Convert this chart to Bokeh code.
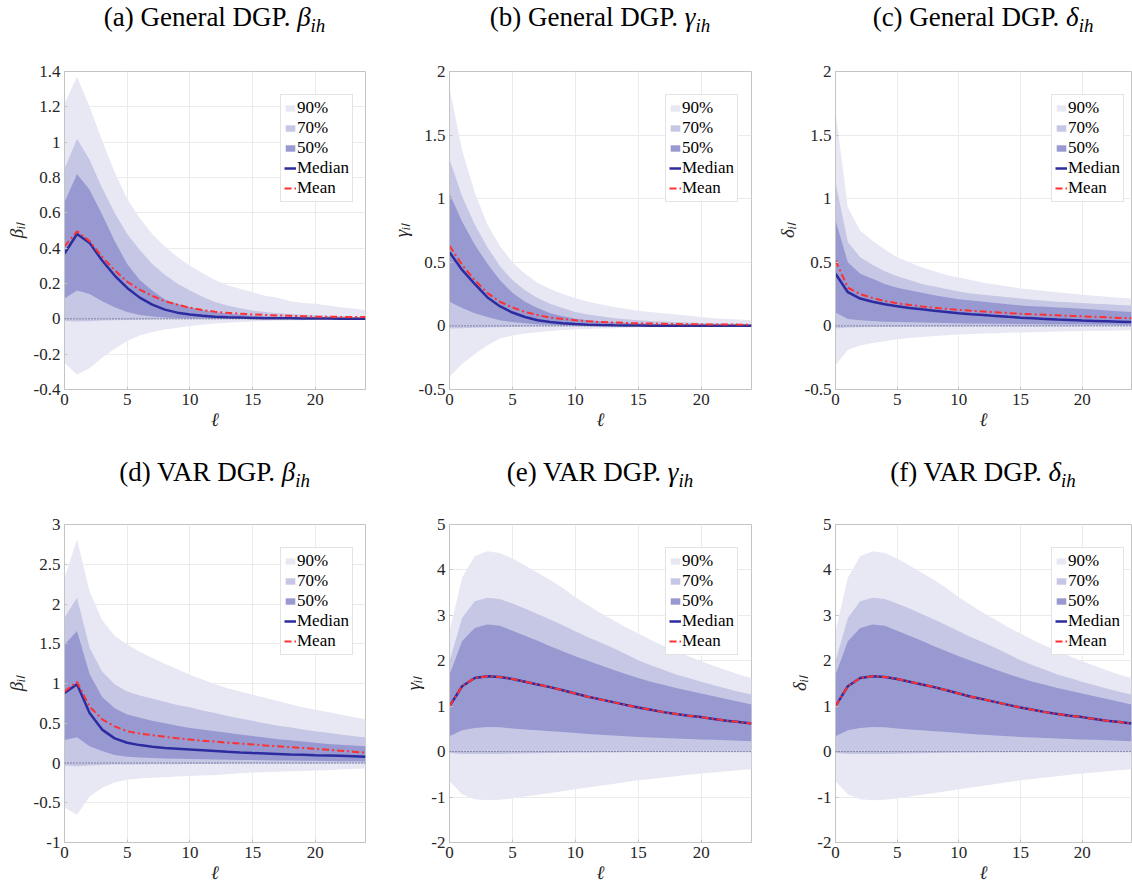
from bokeh.plotting import figure
from bokeh.models import Div, Span, FixedTicker, Range1d
from bokeh.layouts import row, column
from bokeh.embed import file_html
from bokeh.resources import INLINE

ell = list(range(25))
x_ticks = [0, 5, 10, 15, 20]

# ---------------- (a) General DGP, beta ----------------
a_hi90 = [1.22, 1.37, 1.20, 1.01, 0.83, 0.68, 0.57, 0.48, 0.41, 0.35, 0.30, 0.26, 0.22, 0.19, 0.17, 0.15, 0.13, 0.12, 0.10, 0.09, 0.085, 0.075, 0.065, 0.058, 0.05]
a_lo90 = [-0.25, -0.315, -0.28, -0.22, -0.17, -0.125, -0.095, -0.075, -0.06, -0.05, -0.04, -0.033, -0.027, -0.022, -0.018, -0.015, -0.012, -0.010, -0.009, -0.008, -0.007, -0.006, -0.005, -0.005, -0.004]
a_hi70 = [0.85, 1.02, 0.90, 0.74, 0.60, 0.48, 0.39, 0.31, 0.25, 0.20, 0.16, 0.125, 0.095, 0.075, 0.06, 0.047, 0.038, 0.032, 0.027, 0.023, 0.02, 0.017, 0.014, 0.012, 0.01]
a_lo70 = [-0.012, -0.015, -0.013, -0.01, -0.008, -0.006, -0.005, -0.004, -0.003, -0.003, -0.002, -0.002, -0.002, -0.001, -0.001, -0.001, -0.001, -0.001, -0.001, -0.001, -0.001, -0.001, -0.001, -0.001, -0.001]
a_hi50 = [0.66, 0.82, 0.73, 0.59, 0.44, 0.31, 0.22, 0.16, 0.11, 0.085, 0.065, 0.05, 0.037, 0.03, 0.023, 0.018, 0.015, 0.012, 0.01, 0.009, 0.008, 0.007, 0.006, 0.005, 0.005]
a_lo50 = [0.115, 0.16, 0.14, 0.10, 0.065, 0.038, 0.022, 0.013, 0.008, 0.005, 0.004, 0.003, 0.002, 0.002, 0.001, 0.001, 0.001, 0.001, 0.001, 0.001, 0.001, 0.001, 0.0, 0.0, 0.0]
a_med = [0.37, 0.48, 0.43, 0.33, 0.245, 0.175, 0.12, 0.08, 0.052, 0.035, 0.024, 0.017, 0.012, 0.009, 0.007, 0.005, 0.004, 0.003, 0.003, 0.002, 0.002, 0.002, 0.001, 0.001, 0.001]
a_mean = [0.41, 0.495, 0.44, 0.35, 0.275, 0.21, 0.165, 0.13, 0.10, 0.08, 0.063, 0.05, 0.04, 0.034, 0.029, 0.025, 0.022, 0.019, 0.017, 0.015, 0.013, 0.012, 0.011, 0.01, 0.01]

# ---------------- (b) General DGP, gamma ----------------
b_hi90 = [1.87, 1.38, 1.05, 0.80, 0.63, 0.50, 0.41, 0.34, 0.29, 0.25, 0.22, 0.19, 0.17, 0.15, 0.135, 0.12, 0.11, 0.10, 0.09, 0.08, 0.07, 0.06, 0.055, 0.05, 0.045]
b_lo90 = [-0.40, -0.30, -0.22, -0.155, -0.10, -0.076, -0.06, -0.05, -0.04, -0.033, -0.028, -0.024, -0.021, -0.018, -0.015, -0.012, -0.011, -0.01, -0.009, -0.008, -0.007, -0.006, -0.006, -0.005, -0.005]
b_hi70 = [1.31, 1.02, 0.80, 0.62, 0.47, 0.36, 0.28, 0.22, 0.175, 0.14, 0.11, 0.09, 0.075, 0.062, 0.052, 0.045, 0.039, 0.034, 0.03, 0.026, 0.023, 0.02, 0.018, 0.016, 0.015]
b_lo70 = [-0.02, -0.018, -0.015, -0.012, -0.01, -0.008, -0.006, -0.005, -0.004, -0.003, -0.003, -0.002, -0.002, -0.002, -0.001, -0.001, -0.001, -0.001, -0.001, -0.001, -0.001, -0.001, -0.001, -0.001, -0.001]
b_hi50 = [1.04, 0.82, 0.64, 0.49, 0.36, 0.26, 0.19, 0.14, 0.10, 0.075, 0.056, 0.045, 0.036, 0.029, 0.024, 0.02, 0.016, 0.013, 0.011, 0.009, 0.008, 0.007, 0.006, 0.005, 0.005]
b_lo50 = [0.19, 0.14, 0.10, 0.07, 0.045, 0.03, 0.02, 0.013, 0.009, 0.006, 0.004, 0.003, 0.002, 0.002, 0.001, 0.001, 0.001, 0.001, 0.001, 0.0, 0.0, 0.0, 0.0, 0.0, 0.0]
b_med = [0.58, 0.44, 0.33, 0.226, 0.155, 0.105, 0.07, 0.045, 0.03, 0.02, 0.014, 0.01, 0.007, 0.005, 0.004, 0.003, 0.002, 0.002, 0.002, 0.001, 0.001, 0.001, 0.001, 0.001, 0.001]
b_mean = [0.63, 0.48, 0.36, 0.26, 0.19, 0.145, 0.11, 0.085, 0.065, 0.054, 0.045, 0.037, 0.03, 0.027, 0.023, 0.02, 0.018, 0.016, 0.014, 0.013, 0.012, 0.011, 0.011, 0.01, 0.01]

# ---------------- (c) General DGP, delta ----------------
c_hi90 = [1.69, 0.93, 0.75, 0.67, 0.60, 0.54, 0.50, 0.46, 0.43, 0.40, 0.38, 0.36, 0.34, 0.325, 0.31, 0.295, 0.285, 0.275, 0.265, 0.255, 0.245, 0.237, 0.23, 0.222, 0.215]
c_lo90 = [-0.31, -0.19, -0.155, -0.135, -0.12, -0.105, -0.095, -0.088, -0.08, -0.074, -0.068, -0.064, -0.06, -0.057, -0.054, -0.051, -0.049, -0.047, -0.045, -0.043, -0.041, -0.04, -0.038, -0.037, -0.035]
c_hi70 = [1.13, 0.66, 0.54, 0.48, 0.43, 0.39, 0.36, 0.33, 0.31, 0.29, 0.27, 0.255, 0.245, 0.235, 0.225, 0.215, 0.205, 0.198, 0.19, 0.185, 0.18, 0.175, 0.17, 0.165, 0.16]
c_lo70 = [-0.02, -0.012, -0.01, -0.009, -0.008, -0.008, -0.007, -0.007, -0.006, -0.006, -0.006, -0.005, -0.005, -0.005, -0.005, -0.004, -0.004, -0.004, -0.004, -0.004, -0.003, -0.003, -0.003, -0.003, -0.003]
c_hi50 = [0.83, 0.50, 0.41, 0.37, 0.33, 0.30, 0.28, 0.26, 0.24, 0.225, 0.21, 0.20, 0.19, 0.18, 0.17, 0.16, 0.155, 0.15, 0.145, 0.14, 0.135, 0.128, 0.122, 0.116, 0.11]
c_lo50 = [0.105, 0.055, 0.045, 0.038, 0.033, 0.03, 0.028, 0.026, 0.024, 0.022, 0.02, 0.019, 0.018, 0.017, 0.016, 0.015, 0.014, 0.013, 0.013, 0.012, 0.012, 0.011, 0.011, 0.01, 0.01]
c_med = [0.41, 0.265, 0.215, 0.19, 0.17, 0.155, 0.14, 0.13, 0.12, 0.11, 0.10, 0.092, 0.085, 0.078, 0.071, 0.065, 0.06, 0.055, 0.05, 0.046, 0.042, 0.039, 0.036, 0.033, 0.03]
c_mean = [0.515, 0.30, 0.25, 0.22, 0.195, 0.178, 0.165, 0.153, 0.143, 0.134, 0.126, 0.119, 0.113, 0.107, 0.101, 0.096, 0.091, 0.087, 0.083, 0.079, 0.075, 0.071, 0.067, 0.063, 0.06]

# ---------------- (d) VAR DGP, beta ----------------
d_hi90 = [2.33, 2.81, 2.16, 1.80, 1.60, 1.49, 1.40, 1.32, 1.25, 1.18, 1.11, 1.05, 0.99, 0.94, 0.90, 0.86, 0.82, 0.78, 0.74, 0.70, 0.67, 0.64, 0.61, 0.58, 0.55]
d_lo90 = [-0.56, -0.65, -0.42, -0.31, -0.245, -0.21, -0.195, -0.185, -0.178, -0.17, -0.165, -0.157, -0.15, -0.14, -0.13, -0.12, -0.115, -0.11, -0.105, -0.1, -0.095, -0.09, -0.083, -0.077, -0.07]
d_hi70 = [1.83, 2.08, 1.45, 1.15, 0.99, 0.90, 0.85, 0.81, 0.77, 0.73, 0.70, 0.66, 0.63, 0.59, 0.56, 0.53, 0.50, 0.47, 0.45, 0.42, 0.40, 0.38, 0.36, 0.34, 0.32]
d_lo70 = [-0.03, -0.04, -0.03, -0.025, -0.02, -0.02, -0.018, -0.017, -0.016, -0.015, -0.014, -0.013, -0.012, -0.011, -0.011, -0.01, -0.01, -0.009, -0.009, -0.008, -0.008, -0.007, -0.007, -0.006, -0.006]
d_hi50 = [1.49, 1.66, 1.12, 0.83, 0.69, 0.61, 0.57, 0.53, 0.50, 0.47, 0.44, 0.42, 0.40, 0.38, 0.36, 0.34, 0.32, 0.30, 0.285, 0.27, 0.255, 0.24, 0.23, 0.22, 0.21]
d_lo50 = [0.29, 0.325, 0.21, 0.15, 0.10, 0.078, 0.068, 0.062, 0.058, 0.054, 0.05, 0.047, 0.044, 0.041, 0.039, 0.037, 0.035, 0.033, 0.031, 0.029, 0.027, 0.025, 0.023, 0.021, 0.02]
d_med = [0.88, 0.99, 0.63, 0.42, 0.31, 0.255, 0.225, 0.205, 0.19, 0.18, 0.17, 0.16, 0.15, 0.14, 0.132, 0.125, 0.12, 0.114, 0.108, 0.103, 0.098, 0.094, 0.09, 0.085, 0.08]
d_mean = [0.90, 1.02, 0.71, 0.55, 0.46, 0.40, 0.37, 0.35, 0.33, 0.31, 0.295, 0.28, 0.27, 0.255, 0.245, 0.233, 0.22, 0.21, 0.2, 0.19, 0.178, 0.167, 0.155, 0.143, 0.13]

# ---------------- (e) VAR DGP, gamma ----------------
e_hi90 = [2.65, 3.83, 4.30, 4.41, 4.37, 4.25, 4.10, 3.94, 3.78, 3.60, 3.40, 3.22, 3.05, 2.90, 2.74, 2.60, 2.46, 2.33, 2.21, 2.10, 1.99, 1.89, 1.79, 1.70, 1.62]
e_lo90 = [-0.65, -0.94, -1.05, -1.07, -1.06, -1.03, -0.99, -0.95, -0.91, -0.87, -0.83, -0.79, -0.75, -0.71, -0.67, -0.63, -0.60, -0.57, -0.54, -0.51, -0.48, -0.46, -0.43, -0.41, -0.39]
e_hi70 = [1.99, 2.94, 3.31, 3.39, 3.36, 3.26, 3.15, 3.03, 2.91, 2.78, 2.65, 2.52, 2.40, 2.28, 2.15, 2.01, 1.90, 1.80, 1.70, 1.62, 1.54, 1.46, 1.39, 1.32, 1.26]
e_lo70 = [-0.03, -0.05, -0.05, -0.05, -0.05, -0.045, -0.04, -0.035, -0.03, -0.025, -0.02, -0.018, -0.015, -0.012, -0.01, -0.008, -0.006, -0.005, -0.004, -0.003, -0.002, -0.001, 0.0, 0.0, 0.0]
e_hi50 = [1.69, 2.43, 2.72, 2.80, 2.77, 2.66, 2.55, 2.44, 2.32, 2.21, 2.10, 2.00, 1.90, 1.80, 1.71, 1.62, 1.54, 1.47, 1.40, 1.34, 1.28, 1.22, 1.16, 1.10, 1.04]
e_lo50 = [0.34, 0.47, 0.52, 0.54, 0.535, 0.51, 0.49, 0.47, 0.45, 0.43, 0.41, 0.39, 0.37, 0.355, 0.34, 0.325, 0.31, 0.30, 0.29, 0.28, 0.27, 0.26, 0.25, 0.24, 0.23]
e_med = [1.0, 1.44, 1.62, 1.66, 1.645, 1.60, 1.54, 1.48, 1.42, 1.35, 1.28, 1.21, 1.15, 1.09, 1.03, 0.97, 0.92, 0.87, 0.83, 0.79, 0.76, 0.72, 0.68, 0.65, 0.62]
e_mean = [1.0, 1.44, 1.62, 1.66, 1.645, 1.60, 1.54, 1.48, 1.42, 1.35, 1.28, 1.21, 1.15, 1.09, 1.03, 0.97, 0.92, 0.87, 0.83, 0.79, 0.76, 0.72, 0.68, 0.65, 0.62]

# ---------------- (f) VAR DGP, delta ----------------
f_hi90 = [2.65, 3.83, 4.30, 4.41, 4.37, 4.25, 4.10, 3.94, 3.78, 3.60, 3.40, 3.22, 3.05, 2.90, 2.74, 2.60, 2.46, 2.33, 2.21, 2.10, 1.99, 1.89, 1.79, 1.70, 1.62]
f_lo90 = [-0.65, -0.94, -1.05, -1.07, -1.06, -1.03, -0.99, -0.95, -0.91, -0.87, -0.83, -0.79, -0.75, -0.71, -0.67, -0.63, -0.60, -0.57, -0.54, -0.51, -0.48, -0.46, -0.43, -0.41, -0.39]
f_hi70 = [1.99, 2.94, 3.31, 3.39, 3.36, 3.26, 3.15, 3.03, 2.91, 2.78, 2.65, 2.52, 2.40, 2.28, 2.15, 2.01, 1.90, 1.80, 1.70, 1.62, 1.54, 1.46, 1.39, 1.32, 1.26]
f_lo70 = [-0.03, -0.05, -0.05, -0.05, -0.05, -0.045, -0.04, -0.035, -0.03, -0.025, -0.02, -0.018, -0.015, -0.012, -0.01, -0.008, -0.006, -0.005, -0.004, -0.003, -0.002, -0.001, 0.0, 0.0, 0.0]
f_hi50 = [1.69, 2.43, 2.72, 2.80, 2.77, 2.66, 2.55, 2.44, 2.32, 2.21, 2.10, 2.00, 1.90, 1.80, 1.71, 1.62, 1.54, 1.47, 1.40, 1.34, 1.28, 1.22, 1.16, 1.10, 1.04]
f_lo50 = [0.34, 0.47, 0.52, 0.54, 0.535, 0.51, 0.49, 0.47, 0.45, 0.43, 0.41, 0.39, 0.37, 0.355, 0.34, 0.325, 0.31, 0.30, 0.29, 0.28, 0.27, 0.26, 0.25, 0.24, 0.23]
f_med = [1.0, 1.44, 1.62, 1.66, 1.645, 1.60, 1.54, 1.48, 1.42, 1.35, 1.28, 1.21, 1.15, 1.09, 1.03, 0.97, 0.92, 0.87, 0.83, 0.79, 0.76, 0.72, 0.68, 0.65, 0.62]
f_mean = [1.0, 1.44, 1.62, 1.66, 1.645, 1.60, 1.54, 1.48, 1.42, 1.35, 1.28, 1.21, 1.15, 1.09, 1.03, 0.97, 0.92, 0.87, 0.83, 0.79, 0.76, 0.72, 0.68, 0.65, 0.62]

# y ticks and labels
yt_a = [-0.4, -0.2, 0, 0.2, 0.4, 0.6, 0.8, 1, 1.2, 1.4]
yl_a = ["-0.4", "-0.2", "0", "0.2", "0.4", "0.6", "0.8", "1", "1.2", "1.4"]
yt_bc = [-0.5, 0, 0.5, 1, 1.5, 2]
yl_bc = ["-0.5", "0", "0.5", "1", "1.5", "2"]
yt_d = [-1, -0.5, 0, 0.5, 1, 1.5, 2, 2.5, 3]
yl_d = ["-1", "-0.5", "0", "0.5", "1", "1.5", "2", "2.5", "3"]
yt_ef = [-2, -1, 0, 1, 2, 3, 4, 5]
yl_ef = ["-2", "-1", "0", "1", "2", "3", "4", "5"]

band_labels = ["90%", "70%", "50%"]
line_labels = ["Median", "Mean"]

C90, C70, C50 = "#e8e8f4", "#c6c7e5", "#9899d1"
C_MED, C_MEAN = "#2c2ca0", "#ff3030"
SERIF = "Liberation Serif"
GRID = "#ebebeb"
AXC = "#c4c4c4"
TXT = "#262626"

FRAME_H = 318


def panel(title_html, ylabel, hi90, lo90, hi70, lo70, hi50, lo50, med, mean,
          yrange, yticks, ylabels, left, fw, right, top, bottom):
    p = figure(frame_width=fw, frame_height=FRAME_H, title=None,
               x_range=Range1d(0, 24), y_range=Range1d(*yrange),
               output_backend="svg", toolbar_location=None,
               min_border_left=left, min_border_right=right,
               min_border_top=top, min_border_bottom=bottom)
    p.background_fill_color = "white"
    p.border_fill_color = "white"
    p.outline_line_color = AXC
    p.outline_line_width = 1

    p.varea(x=ell, y1=lo90, y2=hi90, fill_color=C90, legend_label=band_labels[0])
    p.varea(x=ell, y1=lo70, y2=hi70, fill_color=C70, legend_label=band_labels[1])
    p.varea(x=ell, y1=lo50, y2=hi50, fill_color=C50, legend_label=band_labels[2])
    p.line(x=ell, y=med, line_color=C_MED, line_width=2.5, legend_label=line_labels[0])
    p.line(x=ell, y=mean, line_color=C_MEAN, line_width=2, line_dash="7 3 2 3",
           legend_label=line_labels[1])
    p.add_layout(Span(location=0, dimension="width", line_color="#3a3a60",
                      line_width=1, line_dash="1 2"))

    p.xaxis.ticker = FixedTicker(ticks=x_ticks)
    p.yaxis.ticker = FixedTicker(ticks=yticks)
    p.xgrid.ticker = FixedTicker(ticks=x_ticks)
    p.ygrid.ticker = FixedTicker(ticks=yticks)
    p.yaxis.major_label_overrides = {t: s for t, s in zip(yticks, ylabels)}
    for g in (p.xgrid, p.ygrid):
        g.grid_line_color = GRID
        g.grid_line_width = 1
    for ax in (p.xaxis, p.yaxis):
        ax.axis_line_color = AXC
        ax.major_tick_line_color = AXC
        ax.major_tick_in = 3
        ax.major_tick_out = 0
        ax.minor_tick_line_color = None
        ax.major_label_text_font = SERIF
        ax.major_label_text_font_size = "17px"
        ax.major_label_text_color = TXT
        ax.axis_label_text_font = SERIF
        ax.axis_label_text_font_style = "italic"
        ax.axis_label_text_font_size = "19px"
        ax.axis_label_text_color = TXT
    p.xaxis.major_label_standoff = 4
    p.xaxis.axis_label_standoff = 1
    p.yaxis.major_label_standoff = 4
    p.yaxis.axis_label_standoff = 4
    p.xaxis.axis_label = "ℓ"
    p.yaxis.axis_label = ylabel

    lg = p.legend[0]
    lg.location = (216, 187)
    lg.margin = 0
    lg.padding = 3
    lg.spacing = 0
    lg.glyph_width = 12
    lg.glyph_height = 8
    lg.label_height = 19
    lg.label_standoff = 1
    lg.label_text_font = SERIF
    lg.label_text_font_size = "17px"
    lg.label_text_color = "black"
    lg.border_line_color = "#c8c8c8"
    lg.border_line_width = 1
    lg.background_fill_color = "white"
    lg.background_fill_alpha = 1

    div = Div(text=title_html, width=fw, height=36, margin=(0, 0, 0, left),
              styles={"text-align": "center", "font-family": SERIF,
                      "font-size": "27px", "color": "black", "line-height": "34px",
                      "white-space": "nowrap"})
    return column(div, p, spacing=0)


def t(s, sym):
    return s + ' <i>' + sym + '<sub style="font-size:0.7em">ih</sub></i>'


# row 1
r1 = dict(top=35, bottom=66)
pa = panel(t("(a) General DGP.", "β"), "βᵢₗ", a_hi90, a_lo90, a_hi70, a_lo70, a_hi50, a_lo50, a_med, a_mean,
           (-0.4, 1.4), yt_a, yl_a, 64, 301, 15, **r1)
pb = panel(t("(b) General DGP.", "γ"), "γᵢₗ", b_hi90, b_lo90, b_hi70, b_lo70, b_hi50, b_lo50, b_med, b_mean,
           (-0.5, 2), yt_bc, yl_bc, 69, 302, 9, **r1)
pc = panel(t("(c) General DGP.", "δ"), "δᵢₗ", c_hi90, c_lo90, c_hi70, c_lo70, c_hi50, c_lo50, c_med, c_mean,
           (-0.5, 2), yt_bc, yl_bc, 75, 296, 1, **r1)
# row 2
r2 = dict(top=33, bottom=44)
pd_ = panel(t("(d) VAR DGP.", "β"), "βᵢₗ", d_hi90, d_lo90, d_hi70, d_lo70, d_hi50, d_lo50, d_med, d_mean,
            (-1, 3), yt_d, yl_d, 64, 301, 15, **r2)
pe = panel(t("(e) VAR DGP.", "γ"), "γᵢₗ", e_hi90, e_lo90, e_hi70, e_lo70, e_hi50, e_lo50, e_med, e_mean,
           (-2, 5), yt_ef, yl_ef, 69, 302, 9, **r2)
pf = panel(t("(f) VAR DGP.", "δ"), "δᵢₗ", f_hi90, f_lo90, f_hi70, f_lo70, f_hi50, f_lo50, f_med, f_mean,
           (-2, 5), yt_ef, yl_ef, 75, 296, 1, **r2)

layout = column(row(pa, pb, pc, spacing=0), row(pd_, pe, pf, spacing=0), spacing=0)

open("out.html", "w").write(file_html(layout, INLINE))
